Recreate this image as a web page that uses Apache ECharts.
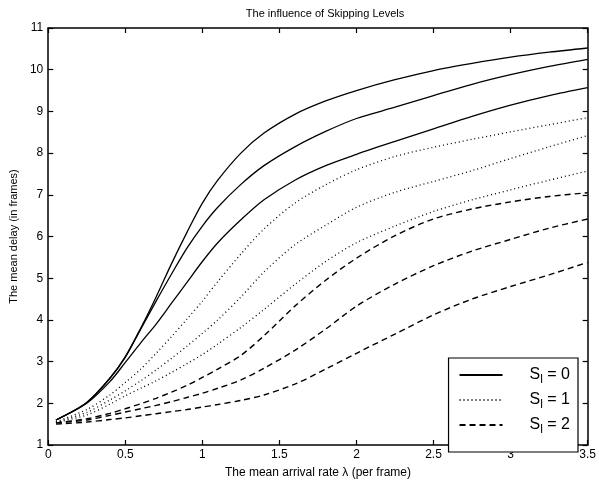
<!DOCTYPE html>
<html lang="en">
<head>
    <meta charset="UTF-8">
    <title>The influence of Skipping Levels</title>
    <script src="https://cdn.jsdelivr.net/npm/echarts@6/dist/echarts.min.js"></script>
    <style>
        html, body { margin: 0; padding: 0; background: #fff; }
    </style>
</head>
<body>
<div id="chart" style="width: 599px;height: 484px"></div>
<script type="text/javascript">
    // arrival rate (x) shared by every curve
    var lambdas = [0.05, 0.25, 0.4, 0.5, 0.6, 0.7, 0.8, 0.9, 1.0, 1.1, 1.25, 1.4, 1.6, 1.8, 2.0, 2.25, 2.5, 2.75, 3.0, 3.25, 3.5];

    // S_l = 0 (solid)
    var solidA = [1.6, 2.02, 2.6, 3.12, 3.8, 4.55, 5.35, 6.1, 6.8, 7.35, 8.0, 8.48, 8.93, 9.25, 9.5, 9.76, 9.98, 10.15, 10.3, 10.42, 10.52];
    var solidB = [1.6, 2.02, 2.6, 3.1, 3.78, 4.45, 5.1, 5.72, 6.25, 6.7, 7.25, 7.7, 8.15, 8.52, 8.83, 9.1, 9.38, 9.65, 9.88, 10.08, 10.25];
    var solidC = [1.6, 2.0, 2.52, 2.98, 3.45, 3.9, 4.4, 4.9, 5.4, 5.85, 6.4, 6.88, 7.35, 7.7, 7.97, 8.28, 8.58, 8.88, 9.15, 9.38, 9.57];

    // S_l = 1 (dotted)
    var dottedA = [1.56, 1.85, 2.2, 2.5, 2.82, 3.2, 3.6, 4.02, 4.45, 4.92, 5.58, 6.18, 6.8, 7.24, 7.6, 7.92, 8.14, 8.33, 8.51, 8.68, 8.85];
    var dottedB = [1.55, 1.78, 2.08, 2.3, 2.54, 2.8, 3.08, 3.37, 3.68, 4.0, 4.55, 5.15, 5.8, 6.27, 6.7, 7.06, 7.32, 7.58, 7.87, 8.15, 8.42];
    var dottedC = [1.54, 1.72, 1.98, 2.18, 2.36, 2.54, 2.74, 2.95, 3.17, 3.42, 3.82, 4.25, 4.85, 5.4, 5.85, 6.25, 6.6, 6.88, 7.12, 7.35, 7.57];

    // S_l = 2 (dashed)
    var dashedA = [1.53, 1.63, 1.76, 1.87, 1.99, 2.12, 2.27, 2.43, 2.62, 2.82, 3.15, 3.62, 4.33, 4.95, 5.48, 6.02, 6.42, 6.66, 6.83, 6.96, 7.05];
    var dashedB = [1.53, 1.6, 1.71, 1.79, 1.87, 1.95, 2.04, 2.14, 2.24, 2.36, 2.56, 2.84, 3.27, 3.78, 4.33, 4.86, 5.3, 5.65, 5.93, 6.2, 6.42];
    var dashedC = [1.5, 1.55, 1.61, 1.65, 1.7, 1.75, 1.8, 1.85, 1.91, 1.97, 2.07, 2.2, 2.46, 2.82, 3.2, 3.66, 4.12, 4.5, 4.8, 5.08, 5.38];

    var legendNames = ['S_l = 0', 'S_l = 1', 'S_l = 2'];
    var xTicks = { min: 0, max: 3.5, interval: 0.5 };
    var yTicks = { min: 1, max: 11, interval: 1 };

    var fontFamily = '"Liberation Sans", Arial, Helvetica, sans-serif';

    function pairs(ys) {
        return lambdas.map(function (x, i) { return [x, ys[i]]; });
    }

    function makeSeries(name, ys, type, width) {
        return {
            name: name,
            type: 'line',
            data: pairs(ys),
            smooth: 0.3,
            symbol: 'none',
            silent: true,
            itemStyle: { color: '#000' },
            lineStyle: { color: '#000', width: width, type: type }
        };
    }

    var echart = echarts.init(document.getElementById('chart'), null, { renderer: 'canvas' });

    var axisCommon = {
        type: 'value',
        axisLine: { show: true, onZero: false, lineStyle: { color: '#000', width: 1.5 } },
        axisTick: { show: true, inside: true, length: 5, lineStyle: { color: '#000', width: 1.2 } },
        splitLine: { show: false }
    };

    var options = {
        animation: false,
        backgroundColor: '#fff',
        title: {
            text: 'The influence of Skipping Levels',
            left: 320,
            top: 3,
            textAlign: 'center',
            textStyle: { fontFamily: fontFamily, fontSize: 11, fontWeight: 'normal', color: '#000' }
        },
        grid: { left: 43, right: 6, top: 28, bottom: 28 },
        legend: {
            data: legendNames,
            orient: 'vertical',
            right: 21,
            bottom: 32,
            itemWidth: 43,
            itemHeight: 14,
            itemGap: 6,
            padding: [9, 8, 16, 10],
            borderColor: '#000',
            borderWidth: 1.2,
            backgroundColor: '#fff',
            selectedMode: false,
            itemStyle: { opacity: 0 },
            formatter: function (name) {
                var n = name.split('= ')[1];
                return '{s|S}{l|l}{s| = ' + n + '}';
            },
            textStyle: {
                padding: [0, 0, 0, 22],
                rich: {
                    s: { fontFamily: fontFamily, fontSize: 16, color: '#000' },
                    l: { fontFamily: fontFamily, fontSize: 12, color: '#000', padding: [10, 0, 0, 0] }
                }
            }
        },
        xAxis: [
            Object.assign({}, axisCommon, {
                min: xTicks.min, max: xTicks.max, interval: xTicks.interval,
                position: 'bottom',
                name: 'The mean arrival rate λ (per frame)',
                nameLocation: 'middle',
                nameGap: 22,
                nameTextStyle: { fontFamily: fontFamily, fontSize: 12, color: '#000' },
                axisLabel: {
                    fontFamily: fontFamily, fontSize: 12, color: '#000', margin: 4,
                    formatter: function (v) { return String(v); }
                }
            }),
            Object.assign({}, axisCommon, {
                min: xTicks.min, max: xTicks.max, interval: xTicks.interval,
                position: 'top',
                axisLabel: { show: false }
            })
        ],
        yAxis: [
            Object.assign({}, axisCommon, {
                min: yTicks.min, max: yTicks.max, interval: yTicks.interval,
                position: 'left',
                name: 'The mean delay (in frames)',
                nameLocation: 'middle',
                nameGap: 28,
                nameTextStyle: { fontFamily: fontFamily, fontSize: 11, color: '#000' },
                axisLabel: { fontFamily: fontFamily, fontSize: 12, color: '#000', margin: 5 }
            }),
            Object.assign({}, axisCommon, {
                min: yTicks.min, max: yTicks.max, interval: yTicks.interval,
                position: 'right',
                axisLabel: { show: false }
            })
        ],
        series: [
            makeSeries(legendNames[0], solidA, 'solid', 1.3),
            makeSeries(legendNames[0], solidB, 'solid', 1.3),
            makeSeries(legendNames[0], solidC, 'solid', 1.3),
            makeSeries(legendNames[1], dottedA, [1, 3], 1.3),
            makeSeries(legendNames[1], dottedB, [1, 3], 1.3),
            makeSeries(legendNames[1], dottedC, [1, 3], 1.3),
            makeSeries(legendNames[2], dashedA, [6, 4], 1.4),
            makeSeries(legendNames[2], dashedB, [6, 4], 1.4),
            makeSeries(legendNames[2], dashedC, [6, 4], 1.4)
        ]
    };
    echart.setOption(options);
</script>
</body>
</html>
